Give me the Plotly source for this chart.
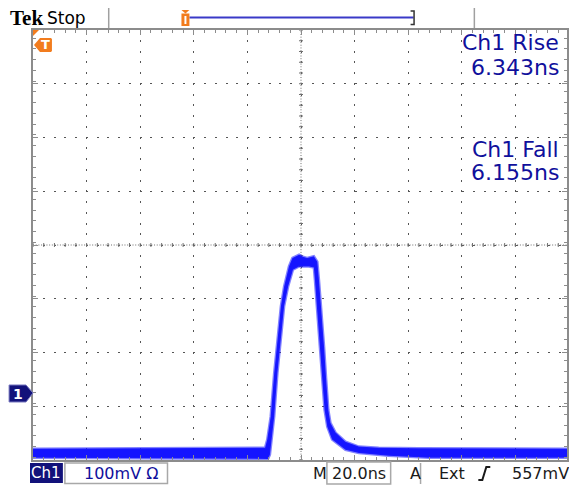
import plotly.graph_objects as go

# ---------------- data read from the screen ----------------
# waveform envelope (persistence band): upper edge and lower edge
time_upper_ns = [-100, -13.4, -12.6, -11.3, -10.0, -8.8, -7.5, -6.3, -4.5, -3.2,
                 -0.7, 0.7, 2.3, 4.8, 6.1, 6.7, 7.7, 8.6, 9.4, 10.2,
                 11.0, 12.9, 16.6, 21.6, 29.0, 43.9, 100]
volt_upper_mv = [-104, -102, -87, -44, 37, 99, 161, 198, 235, 251,
                 257, 253, 251, 254, 244, 210, 149, 86, 24, -32,
                 -56, -74, -91, -100, -102, -103, -104]
time_lower_ns = [-100, -12.3, -11.6, -10.0, -8.8, -7.5, -6.3, -4.8, -3.0, -0.7,
                 3.0, 4.8, 5.2, 6.1, 7.1, 7.9, 8.8, 9.8, 11.6, 16.6,
                 21.6, 32.7, 47.6, 100]
volt_lower_mv = [-121, -123, -115, -44, 37, 99, 161, 198, 229, 235,
                 235, 233, 210, 149, 86, 24, -32, -63, -87, -106,
                 -112, -117, -121, -121]

meas_labels = ["Ch1 Rise", "Ch1 Fall"]
meas_values = ["6.343ns", "6.155ns"]
status_text = ["Tek", "Stop"]
channel_name = "Ch1"
volts_per_div = "100mV"
time_per_div = "20.0ns"
trigger_source = "Ext"
trigger_level = "557mV"

# ---------------- screen geometry ----------------
FW, FH = 569, 485
L, T = 33, 30
W, H = FW - L, 430
X_RANGE = [-100, -100 + W / 2.69]      # 20 ns / div, 53.8 px / div
Y_RANGE = [-125, 675]                  # 100 mV / div, 8 divisions
CENTER_V = 275

def X(px):
    return (px - L) / W

def Y(py):
    return (T + H - py) / H

def pth(pts, close=True):
    s = "M " + " L ".join(f"{X(a):.5f},{Y(b):.5f}" for a, b in pts)
    return s + (" Z" if close else "")

ORANGE = "#f27c1e"
NAVY = "#12127a"
TXTBLUE = "#10109c"
GRAY = "#8c8c8c"

fig = go.Figure()

# center graticule lines (denser dots + cross ticks)
fig.add_trace(go.Scatter(x=[X_RANGE[0], 100], y=[CENTER_V, CENTER_V], mode="lines",
                         line=dict(color="#707070", width=1, dash="1px,1.69px"),
                         hoverinfo="skip", showlegend=False))
fig.add_trace(go.Scatter(x=[0, 0], y=Y_RANGE, mode="lines",
                         line=dict(color="#707070", width=1, dash="1px,1.69px"),
                         hoverinfo="skip", showlegend=False))
tx, ty = [], []
for k in range(51):
    t = -100 + 4 * k
    tx += [t, t, None]
    ty += [CENTER_V - 3.7, CENTER_V + 3.7, None]
for k in range(41):
    v = Y_RANGE[0] + 20 * k
    tx += [-0.75, 0.75, None]
    ty += [v, v, None]
fig.add_trace(go.Scatter(x=tx, y=ty, mode="lines", line=dict(color="#707070", width=1),
                         hoverinfo="skip", showlegend=False))

# waveform band
bx = time_upper_ns + time_lower_ns[::-1]
by = volt_upper_mv + volt_lower_mv[::-1]
fig.add_trace(go.Scatter(x=bx, y=by, mode="lines", fill="toself",
                         fillcolor="#1414ff",
                         line=dict(color="rgba(30,30,255,0.55)", width=2.5),
                         hoverinfo="skip", showlegend=False))

axis_common = dict(showticklabels=False, showline=True, linecolor=GRAY, linewidth=2,
                   mirror="ticks", ticks="inside", ticklen=5, tickcolor=GRAY, tickwidth=1,
                   showgrid=True, gridcolor="#555555", gridwidth=1,
                   griddash="1px,8.75px,1px,0px", zeroline=False, fixedrange=True)

fig.update_layout(
    width=FW, height=FH,
    margin=dict(l=L, r=0, t=T, b=FH - T - H),
    paper_bgcolor="white", plot_bgcolor="white",
    xaxis=dict(range=X_RANGE, tick0=-100, dtick=20,
               minor=dict(dtick=4, ticks="inside", ticklen=3, tickcolor=GRAY, showgrid=False),
               **axis_common),
    yaxis=dict(range=Y_RANGE, tick0=Y_RANGE[0], dtick=100,
               minor=dict(dtick=20, ticks="inside", ticklen=3, tickcolor=GRAY, showgrid=False),
               **axis_common),
    showlegend=False,
)

shapes = []
ann = []

def text(px, py, s, size, color, family="DejaVu Sans", xanchor="left"):
    ann.append(dict(x=X(px), y=Y(py), xref="paper", yref="paper", text=s, showarrow=False,
                    xanchor=xanchor, yanchor="middle",
                    font=dict(family=family, size=size, color=color)))

def line(x0, y0, x1, y1, color, width):
    shapes.append(dict(type="line", xref="paper", yref="paper", x0=X(x0), y0=Y(y0),
                       x1=X(x1), y1=Y(y1), line=dict(color=color, width=width)))

def poly(pts, fill, lc=None, lw=0):
    shapes.append(dict(type="path", xref="paper", yref="paper", path=pth(pts),
                       fillcolor=fill, line=dict(color=lc or fill, width=lw)))

# ---- top status bar ----
text(8, 18, "<b>" + status_text[0] + "</b>", 21, "black", family="Liberation Serif")
text(45, 18, status_text[1], 17, "black")
line(109, 8, 109, 28, "#a0a0a0", 1.5)
line(476, 8, 476, 28, "#a0a0a0", 1.5)
line(190, 17.5, 415, 17.5, "#3a3ac8", 2)
shapes.append(dict(type="path", xref="paper", yref="paper",
                   path=pth([(412, 11), (415.5, 11), (415.5, 24.5), (412, 24.5)], close=False),
                   line=dict(color="#333333", width=1.5)))
poly([(182, 10), (190, 10), (186, 13.5)], ORANGE)
poly([(182, 13.5), (190, 13.5), (190, 26), (182, 26)], ORANGE)
line(186, 16, 186, 24, "white", 2)

# ---- graticule corner / markers ----
poly([(33, 30), (39, 30), (33, 36)], ORANGE)
poly([(34, 45), (40, 38), (51, 38), (52, 39), (52, 51), (51, 52), (40, 52)], ORANGE)
text(46, 45, "<b>T</b>", 13, "white", xanchor="center")
poly([(9, 385), (26, 385), (33, 393), (26, 402), (9, 402)], NAVY, "#7878c0", 1)
text(18, 393.5, "<b>1</b>", 14, "white", xanchor="center")

# ---- measurement readouts ----
text(563, 43, meas_labels[0], 22, TXTBLUE, xanchor="right")
text(563, 67, meas_values[0], 22, TXTBLUE, xanchor="right")
text(563, 149, meas_labels[1], 22, TXTBLUE, xanchor="right")
text(563, 172, meas_values[1], 22, TXTBLUE, xanchor="right")

# ---- bottom bar ----
poly([(30, 463), (63, 463), (63, 483), (30, 483)], NAVY)
text(46.5, 473, channel_name, 15, "white", xanchor="center")
shapes.append(dict(type="rect", xref="paper", yref="paper", x0=X(65), x1=X(168),
                   y0=Y(463), y1=Y(483.5), line=dict(color="#a8a8a8", width=1.5)))
text(82, 473, volts_per_div + " \u03a9", 16, TXTBLUE)
text(312, 473, "M", 16, "#1a1a1a")
shapes.append(dict(type="rect", xref="paper", yref="paper", x0=X(328), x1=X(392),
                   y0=Y(462), y1=Y(484), line=dict(color="#a8a8a8", width=1.5)))
text(331, 473, time_per_div, 16, "#1a1a1a")
text(409, 473, "A", 16, "#1a1a1a")
line(422, 463, 422, 484, "#a8a8a8", 1.5)
text(439, 473, trigger_source, 16, "#1a1a1a")
shapes.append(dict(type="path", xref="paper", yref="paper",
                   path=pth([(480, 480), (484, 480), (488, 467), (492, 467)], close=False),
                   line=dict(color="#1a1a1a", width=2)))
text(512, 473, trigger_level, 16, "#1a1a1a")

fig.update_layout(shapes=shapes, annotations=ann)
fig.write_html("out.html")
